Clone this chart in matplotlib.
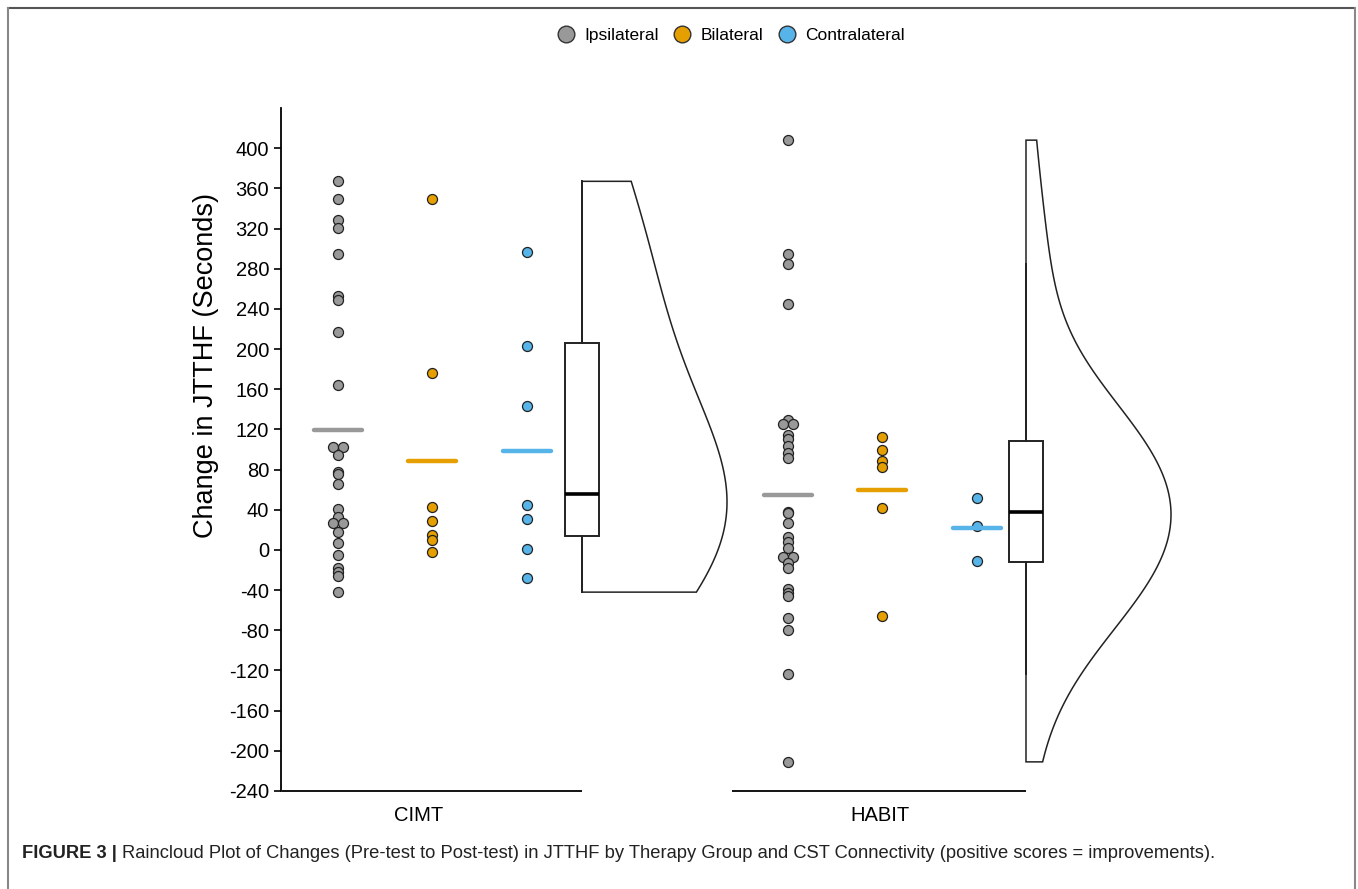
import numpy as np
import matplotlib.pyplot as plt
from matplotlib.lines import Line2D

plt.rcParams['font.family'] = ['Liberation Sans', 'DejaVu Sans']

# change in JTTHF (seconds)
groups = ['CIMT', 'HABIT']
connectivity = ['Ipsilateral', 'Bilateral', 'Contralateral']
colors = ['#999999', '#E69F00', '#56B4E9']

cimt_ipsi = [367, 349, 328, 321, 295, 253, 249, 217, 164, 102, 102, 95, 78, 76,
             66, 41, 33, 27, 27, 18, 7, -5, -18, -22, -26, -42]
cimt_bil = [349, 176, 43, 29, 15, 10, -2]
cimt_con = [297, 203, 143, 45, 31, 1, -28]

habit_ipsi = [408, 295, 285, 245, 129, 125, 125, 114, 110, 103, 97, 92, 38, 37,
              27, 13, 8, 2, -7, -7, -13, -18, -39, -43, -46, -68, -80, -124, -211]
habit_bil = [112, 100, 89, 83, 42, -66]
habit_con = [52, 24, -11]

data = {'CIMT': [cimt_ipsi, cimt_bil, cimt_con],
        'HABIT': [habit_ipsi, habit_bil, habit_con]}

yticks = list(range(-240, 401, 40))
caption = ('Raincloud Plot of Changes (Pre-test to Post-test) in JTTHF by Therapy Group '
           'and CST Connectivity (positive scores = improvements).')

W, H = 1358, 889
fig = plt.figure(figsize=(W / 100, H / 100), dpi=100)
# axes in pixel-like x units so layout is easy to tune
ax = fig.add_axes([281 / W, 1 - 791 / H, (1200 - 281) / W, (791 - 108) / H])
ax.set_xlim(281, 1200)
ax.set_ylim(-240, 440)

centers = {'CIMT': 432, 'HABIT': 882}
box_x = {'CIMT': 582, 'HABIT': 1026}
offsets = [-94, 0, 95]
bw_adjust = 2.0
violin_w = 145


def nrd0(x):
    x = np.asarray(x, float)
    sd = np.std(x, ddof=1)
    q75, q25 = np.percentile(x, [75, 25])
    return 0.9 * min(sd, (q75 - q25) / 1.34) * len(x) ** -0.2


def kde(x, grid):
    x = np.asarray(x, float)
    bw = nrd0(x) * bw_adjust
    z = (grid[:, None] - x[None, :]) / bw
    return np.exp(-0.5 * z ** 2).sum(1) / (len(x) * bw * np.sqrt(2 * np.pi))


for g in groups:
    allv = np.concatenate([np.asarray(v, float) for v in data[g]])
    grid = np.linspace(allv.min(), allv.max(), 512)
    d = kde(allv, grid)
    bx = box_x[g]
    # each half violin scaled to the same maximum width
    xs = np.concatenate([[bx], bx + d / d.max() * violin_w, [bx]])
    ys = np.concatenate([[grid[0]], grid, [grid[-1]]])
    ax.fill(xs, ys, facecolor='white', edgecolor='#222222', lw=1.1, zorder=1)

    ax.boxplot(allv, positions=[bx], widths=34, showfliers=False, showcaps=False,
               patch_artist=True, manage_ticks=False,
               boxprops=dict(facecolor='white', edgecolor='#222222', lw=1.4),
               medianprops=dict(color='black', lw=2.6),
               whiskerprops=dict(color='#222222', lw=1.4), zorder=2)

    for i, vals in enumerate(data[g]):
        vals = np.asarray(vals, float)
        x0 = centers[g] + offsets[i]
        # spread tied values side by side
        xo = np.zeros(len(vals))
        for u in np.unique(vals):
            idx = np.where(vals == u)[0]
            k = len(idx)
            xo[idx] = (np.arange(k) - (k - 1) / 2) * 10
        ax.scatter(x0 + xo, vals, s=52, color=colors[i], edgecolor='#222222',
                   linewidth=0.9, zorder=3)
        ax.hlines(vals.mean(), x0 - 24, x0 + 24, color=colors[i], lw=3.2,
                  zorder=4, capstyle='round')

# axis styling
for s in ['top', 'right', 'bottom']:
    ax.spines[s].set_visible(False)
ax.spines['left'].set_linewidth(1.3)
ax.set_yticks(yticks)
ax.set_yticklabels([str(t) for t in yticks])
ax.tick_params(axis='y', length=5, width=1.2, labelsize=14.5, pad=3.5)
ax.set_xticks([419, 880])
ax.set_xticklabels(groups)
ax.tick_params(axis='x', length=0, labelsize=14.5, pad=11)
for g in groups:
    ax.plot([centers[g] - 150, box_x[g]], [-240, -240], color='black', lw=1.3,
            clip_on=False, solid_capstyle='butt')

fig.text(206 / W, 1 - 366 / H, 'Change in JTTHF (Seconds)', rotation=90,
         fontsize=19.5, ha='center', va='center')

handles = [Line2D([], [], marker='o', ls='', markerfacecolor=c, markeredgecolor='#333333',
                  markersize=12, markeredgewidth=1) for c in colors]
fig.legend(handles, connectivity, loc='center', bbox_to_anchor=(731 / W, 1 - 35 / H),
           ncol=3, frameon=False, fontsize=12.5, handletextpad=0.55,
           columnspacing=0.85, handlelength=1.0)

# caption
t1 = fig.text(22 / W, 1 - 853 / H, 'FIGURE 3 |', fontsize=13.25, weight='bold',
              va='center', color='#222222')
fig.canvas.draw()
bb = t1.get_window_extent()
fig.text((bb.x1 + 5) / W, 1 - 853 / H, caption, fontsize=13.25, va='center',
         color='#222222')

# page frame
frame = dict(transform=fig.transFigure, lw=1.5)
fig.add_artist(Line2D([8 / W, 1355 / W], [1 - 8 / H] * 2, color='#555555', **frame))
fig.add_artist(Line2D([8 / W] * 2, [0, 1 - 8 / H], color='#888888', **frame))
fig.add_artist(Line2D([1355 / W] * 2, [0, 1 - 8 / H], color='#888888', **frame))

fig.savefig('out.png', dpi=100)
